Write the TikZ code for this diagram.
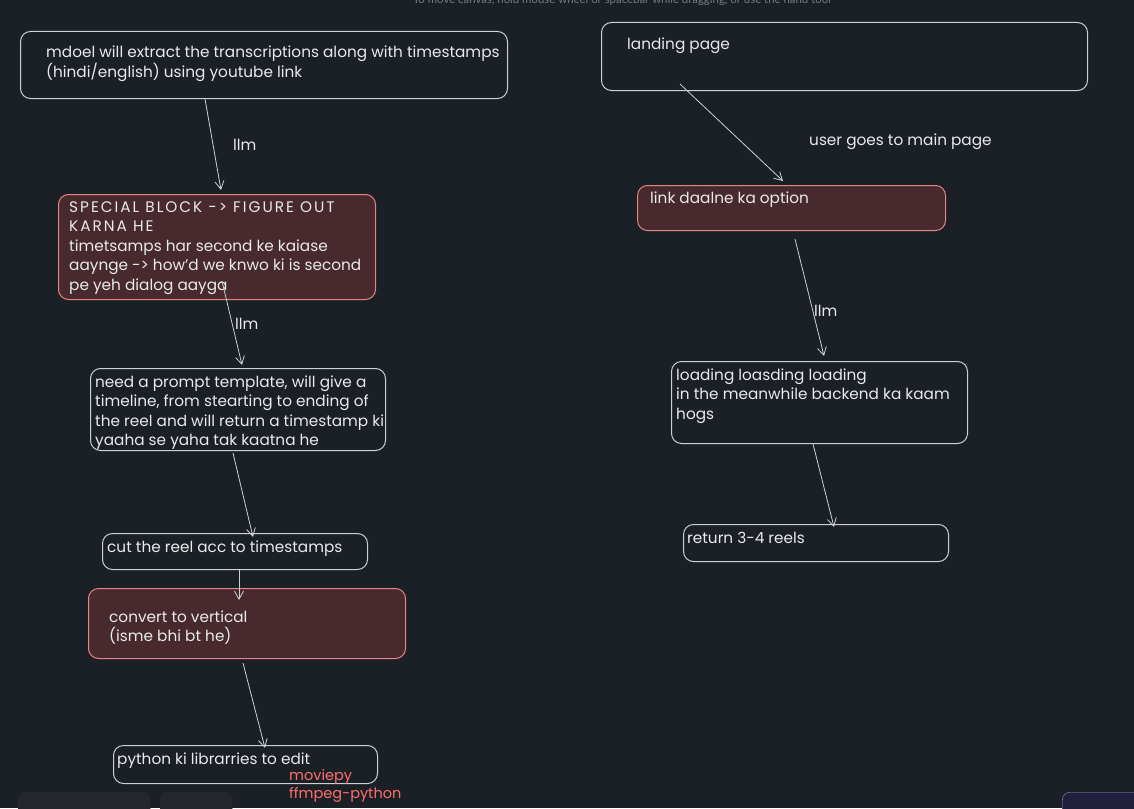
\documentclass[tikz,border=0pt]{standalone}
\usepackage{fontspec}
\setmainfont{Poppins}
\newfontfamily\uifont{Lato}
\usetikzlibrary{arrows.meta,calc}
\definecolor{bg}{RGB}{27,32,38}
\definecolor{ink}{RGB}{232,234,236}
\definecolor{edge}{RGB}{205,209,213}
\definecolor{redfill}{RGB}{72,42,46}
\definecolor{rededge}{RGB}{232,132,132}
\definecolor{redtext}{RGB}{255,110,110}
\definecolor{hint}{RGB}{118,123,130}
\definecolor{uibox}{RGB}{36,40,46}
\newcommand{\capsline}[1]{{\addfontfeature{LetterSpace=13}#1}}
\tikzset{
  box/.style={draw=edge, line width=1pt, rounded corners=10pt, rectangle, anchor=north west, inner sep=0pt},
  redbox/.style={box, draw=rededge, fill=redfill},
  txt/.style={text=ink, font=\fontsize{15.3}{19.5}\selectfont, align=left, anchor=base west, inner sep=0pt},
  lbl/.style={txt},
  conn/.style={draw=edge, line width=0.8pt, -{Straight Barb[length=8pt,width=9pt]}},
}
\begin{document}
\begin{tikzpicture}[x=1pt,y=-1pt]
\fill[bg] (0,0) rectangle (1134,808);
\useasboundingbox (0,0) rectangle (1134,808);
% UI hint
\node[text=hint, font=\uifont\fontsize{11.4}{12}\selectfont, anchor=base, inner sep=0pt] (hint) at (622,3.5) {To move canvas, hold mouse wheel or spacebar while dragging, or use the hand tool};
% UI panels at the bottom
\node[draw=uibox, fill=uibox, rounded corners=8pt, rectangle, anchor=north west, minimum width=132pt, minimum height=40pt] (ui1) at (18,792) {};
\node[draw=uibox, fill=uibox, rounded corners=8pt, rectangle, anchor=north west, minimum width=72pt, minimum height=40pt] (ui2) at (160,792) {};
\node[draw={rgb,255:red,150;green,150;blue,210}, fill={rgb,255:red,32;green,32;blue,60}, rounded corners=8pt, rectangle, anchor=north west, minimum width=90pt, minimum height=40pt] (ui3) at (1062,792) {};

% left column boxes (text anchors are at the baseline of the last line)
\node[box, minimum width=487pt, minimum height=67pt] (A) at (20,31) {};
\node[txt] (At) at (46,77.5) {mdoel will extract the transcriptions along with timestamps\\(hindi/english) using youtube link};

\node[redbox, minimum width=317pt, minimum height=105pt] (B) at (58,194) {};
\node[txt] (Bt) at (69,290) {\capsline{SPECIAL BLOCK -> FIGURE OUT}\\\capsline{KARNA HE}\\timetsamps har second ke kaiase\\aaynge -> how'd we knwo ki is second\\pe yeh dialog aayga};

\node[box, minimum width=295pt, minimum height=82pt] (C) at (90,368) {};
\node[txt] (Ct) at (95,445.5) {need a prompt template, will give a\\timeline, from stearting to ending of\\the reel and will return a timestamp ki\\yaaha se yaha tak kaatna he};

\node[box, minimum width=265pt, minimum height=36pt] (D) at (102,533) {};
\node[txt] (Dt) at (107,552) {cut the reel acc to timestamps};

\node[redbox, minimum width=317pt, minimum height=70pt] (E) at (88,588) {};
\node[txt] (Et) at (109,641.5) {convert to vertical\\(isme bhi bt he)};

\node[box, minimum width=264pt, minimum height=38pt] (F) at (113,745) {};
\node[txt] (Ft) at (117,764) {python ki librarries to edit};
\node[txt, text=redtext, font=\fontsize{14.5}{18}\selectfont] (Fr) at (289,798) {moviepy\\ffmpeg-python};

% right column boxes
\node[box, minimum width=486pt, minimum height=68pt] (G) at (601,22) {};
\node[txt] (Gt) at (627,50) {landing page};

\node[redbox, minimum width=308pt, minimum height=45pt] (H) at (637,185) {};
\node[txt] (Ht) at (650,203) {link daalne ka option};

\node[box, minimum width=296pt, minimum height=82pt] (I) at (671,361) {};
\node[txt] (It) at (676,419) {loading loasding loading\\in the meanwhile backend ka kaam\\hogs};

\node[box, minimum width=265pt, minimum height=37pt] (J) at (683,524) {};
\node[txt] (Jt) at (687,543) {return 3-4 reels};

% labels
\node[lbl] (L1) at (233,150) {llm};
\node[lbl] (L2) at (235,329) {llm};
\node[lbl] (L3) at (814,316) {llm};
\node[lbl] (L4) at (809,145) {user goes to main page};

% connectors
\draw[conn] ($(A.south west)+(185,0)$) -- ($(B.north west)+(163,-4)$);
\draw[conn] ($(B.south west)+(164,-19)$) -- ($(C.north west)+(152,-3)$);
\draw[conn] ($(C.south west)+(143,2)$) -- ($(D.north west)+(151,4)$);
\draw[conn] ($(D.south west)+(137,0)$) -- ($(E.north west)+(151,12)$);
\draw[conn] ($(E.south west)+(155,4)$) -- ($(F.north west)+(152,3)$);
\draw[conn] ($(G.south west)+(79,-7)$) -- ($(H.north west)+(146,-4)$);
\draw[conn] ($(H.south west)+(158,8)$) -- ($(I.north west)+(153,-5)$);
\draw[conn] ($(I.south west)+(142,0)$) -- ($(J.north west)+(151,3)$);
\end{tikzpicture}
\end{document}
